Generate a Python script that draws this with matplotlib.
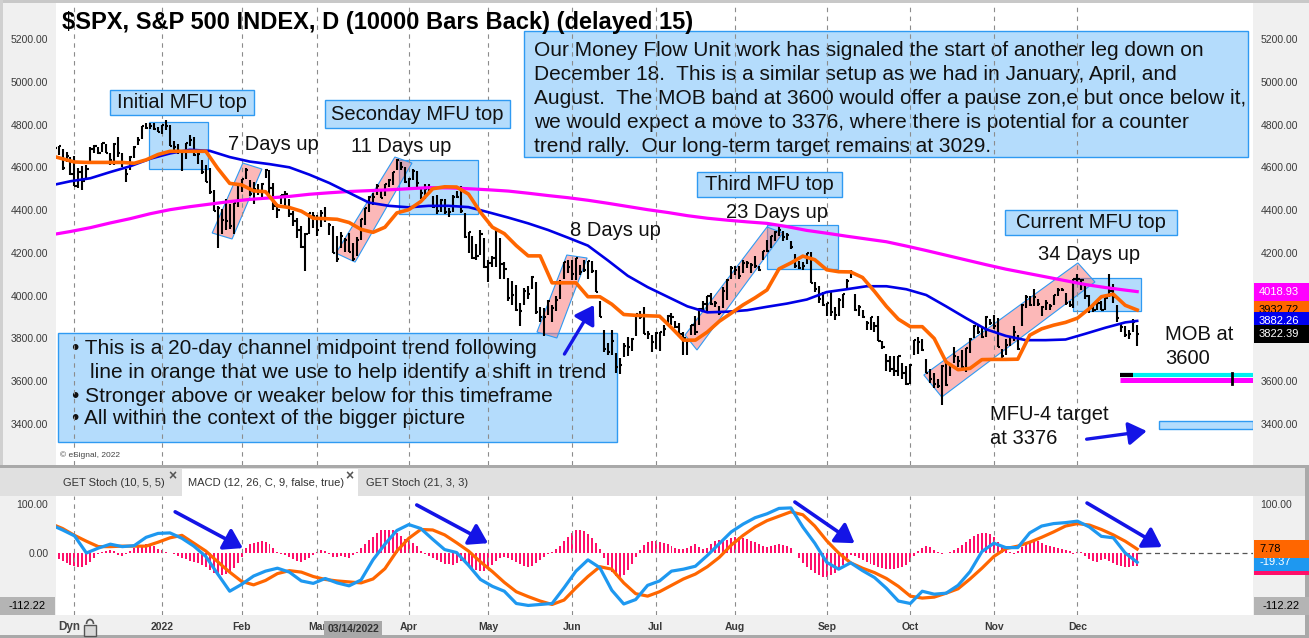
"""
SPX daily bars with MFU annotations and a MACD pane, eSignal-style screenshot.
Output: out.png (1309x638)
"""
import numpy as np
import pandas as pd
import matplotlib
matplotlib.use("Agg")
import matplotlib.pyplot as plt
from matplotlib.patches import Rectangle, Polygon, FancyArrowPatch, Arc
from matplotlib.transforms import Affine2D, blended_transform_factory

plt.rcParams["font.family"] = ["Liberation Sans", "DejaVu Sans"]

# ---- Calendar ----
HOLIDAYS = ["2021-11-25", "2021-12-24", "2022-01-17", "2022-02-21", "2022-04-15",
            "2022-05-30", "2022-06-20", "2022-07-04", "2022-09-05", "2022-11-24"]
days = pd.bdate_range("2021-11-22", "2022-12-22")
days = days[~days.isin(pd.to_datetime(HOLIDAYS))]

# ---- Daily bars (grouped by month) ----
highs = [
    4743, 4701, 4702, 4686, 4672, 4647,
    4652, 4596, 4608, 4613, 4695, 4706, 4697, 4713, 4710, 4666, 4713, 4743, 4666, 4590, 4652, 4698,
    4741, 4792, 4808, 4805, 4809, 4787,
    4797, 4819, 4797, 4725, 4708, 4673, 4714, 4749, 4744, 4666, 4632, 4612, 4596, 4495, 4418, 4407,
    4454, 4429, 4432, 4516,
    4547, 4595, 4542, 4530, 4522, 4525, 4590, 4588, 4527, 4427, 4472, 4489, 4452, 4394, 4363, 4325,
    4295, 4385, 4389,
    4375, 4401, 4416, 4342, 4327, 4277, 4299, 4268, 4294, 4247, 4272, 4358, 4412, 4465, 4481, 4523,
    4501, 4521, 4546, 4576, 4637, 4627, 4603,
    4549, 4593, 4583, 4504, 4521, 4521, 4465, 4471, 4453, 4453, 4410, 4471, 4489, 4513, 4385, 4299,
    4279, 4241, 4308, 4270,
    4169, 4186, 4308, 4271, 4158, 4082, 4069, 4050, 3964, 4038, 4046, 4090, 4063, 3945, 3943, 3981,
    3955, 3999, 4075, 4159, 4169,
    4166, 4177, 4143, 4169, 4164, 4160, 4119, 3974, 3838, 3778, 3838, 3733, 3708, 3780, 3809, 3802,
    3913, 3928, 3946, 3837, 3818,
    3829, 3832, 3864, 3910, 3919, 3880, 3874, 3829, 3796, 3864, 3903, 3940, 3975, 3999, 4013, 3975,
    3954, 4040, 4079, 4140,
    4141, 4140, 4167, 4162, 4151, 4187, 4138, 4211, 4258, 4280, 4301, 4325, 4303, 4292, 4256, 4196,
    4160, 4156, 4200, 4204, 4062, 4044, 4015,
    3968, 4019, 3945, 3988, 4010, 4077, 4119, 4006, 3956, 3932, 3880, 3900, 3875, 3907, 3790, 3727,
    3716, 3717, 3720, 3687, 3672,
    3680, 3791, 3807, 3797, 3706, 3657, 3640, 3609, 3674, 3698, 3686, 3762, 3719, 3747, 3754, 3800,
    3862, 3868, 3859, 3905, 3893,
    3911, 3895, 3751, 3796, 3813, 3860, 3818, 3960, 4002, 3999, 4029, 3983, 3954, 3979, 3962, 4005,
    4034, 4034, 4013, 3976, 4080,
    4100, 4077, 4052, 4002, 3957, 3977, 3977, 3991, 4101, 4053, 3958, 3870, 3856, 3838, 3889, 3862,
]
lows = [
    4682, 4652, 4659, 4586, 4626, 4564,
    4511, 4504, 4496, 4541, 4630, 4666, 4664, 4671, 4667, 4609, 4611, 4648, 4600, 4532, 4589, 4645,
    4703, 4734, 4781, 4778, 4776, 4765,
    4758, 4775, 4700, 4671, 4663, 4582, 4638, 4702, 4651, 4614, 4569, 4530, 4474, 4395, 4223, 4288,
    4305, 4310, 4287, 4415,
    4483, 4544, 4464, 4430, 4471, 4450, 4548, 4477, 4402, 4364, 4430, 4421, 4366, 4327, 4268, 4223,
    4115, 4287, 4318,
    4279, 4322, 4345, 4284, 4199, 4157, 4224, 4206, 4202, 4162, 4187, 4262, 4329, 4392, 4425, 4469,
    4455, 4466, 4508, 4518, 4589, 4588, 4527,
    4507, 4540, 4506, 4450, 4450, 4476, 4408, 4381, 4393, 4381, 4366, 4390, 4455, 4385, 4268, 4201,
    4173, 4168, 4188, 4129,
    4063, 4134, 4133, 4077, 4077, 3976, 3956, 3929, 3859, 3957, 3984, 4033, 3912, 3877, 3811, 3909,
    3875, 3926, 3985, 4077, 4105,
    4074, 4074, 4097, 4110, 4080, 4107, 4017, 3900, 3735, 3723, 3723, 3640, 3636, 3715, 3717, 3743,
    3810, 3889, 3820, 3799, 3738,
    3752, 3742, 3810, 3859, 3865, 3847, 3809, 3722, 3721, 3818, 3818, 3861, 3922, 3928, 3956, 3946,
    3911, 3942, 3982, 4079,
    4097, 4079, 4108, 4128, 4108, 4128, 4113, 4167, 4202, 4222, 4256, 4278, 4254, 4261, 4218, 4131,
    4124, 4119, 4147, 4057, 4017, 3966, 3954,
    3903, 3907, 3886, 3907, 3943, 4030, 4084, 3930, 3906, 3895, 3838, 3839, 3828, 3789, 3750, 3648,
    3644, 3623, 3623, 3610, 3584,
    3585, 3722, 3726, 3740, 3637, 3591, 3570, 3570, 3491, 3579, 3624, 3687, 3667, 3660, 3641, 3733,
    3800, 3822, 3803, 3808, 3863,
    3843, 3758, 3699, 3722, 3763, 3786, 3745, 3860, 3940, 3951, 3953, 3954, 3907, 3933, 3933, 3956,
    3998, 4020, 3956, 3945, 3944,
    4058, 4027, 3984, 3919, 3922, 3934, 3933, 3935, 3994, 3966, 3879, 3828, 3806, 3796, 3828, 3764,
]
closes = [
    4683, 4691, 4701, 4595, 4655, 4567,
    4513, 4577, 4538, 4592, 4687, 4701, 4667, 4712, 4669, 4634, 4710, 4669, 4621, 4568, 4649, 4697,
    4726, 4791, 4786, 4793, 4779, 4766,
    4797, 4794, 4701, 4696, 4677, 4670, 4713, 4726, 4659, 4663, 4577, 4533, 4483, 4398, 4410, 4356,
    4350, 4327, 4432, 4516,
    4547, 4589, 4477, 4501, 4484, 4522, 4587, 4504, 4419, 4402, 4471, 4475, 4380, 4349, 4305, 4226,
    4289, 4385, 4374,
    4306, 4387, 4363, 4329, 4201, 4171, 4278, 4260, 4204, 4173, 4262, 4358, 4412, 4463, 4461, 4512,
    4456, 4520, 4543, 4576, 4632, 4602, 4530,
    4546, 4583, 4525, 4481, 4500, 4488, 4413, 4397, 4447, 4393, 4392, 4462, 4459, 4394, 4272, 4296,
    4175, 4184, 4288, 4132,
    4155, 4175, 4300, 4147, 4123, 3991, 4001, 3935, 3930, 4024, 4008, 4089, 3924, 3901, 3901, 3974,
    3941, 3979, 4058, 4158, 4132,
    4101, 4177, 4109, 4121, 4161, 4116, 4018, 3901, 3750, 3735, 3790, 3667, 3675, 3765, 3760, 3796,
    3912, 3900, 3822, 3819, 3785,
    3825, 3831, 3845, 3903, 3899, 3854, 3819, 3802, 3790, 3863, 3831, 3937, 3960, 3999, 3962, 3967,
    3921, 4024, 4072, 4130,
    4119, 4091, 4155, 4152, 4145, 4140, 4122, 4210, 4207, 4280, 4297, 4305, 4274, 4284, 4228, 4138,
    4129, 4141, 4199, 4058, 4031, 3986, 3955,
    3967, 3924, 3908, 3980, 4006, 4067, 4110, 3933, 3946, 3901, 3873, 3900, 3856, 3790, 3758, 3693,
    3655, 3647, 3719, 3640, 3586,
    3678, 3791, 3783, 3745, 3640, 3612, 3589, 3577, 3670, 3583, 3678, 3720, 3695, 3666, 3753, 3797,
    3859, 3831, 3807, 3901, 3872,
    3856, 3760, 3720, 3771, 3807, 3828, 3749, 3956, 3993, 3957, 3992, 3959, 3947, 3965, 3950, 4004,
    4027, 4026, 3964, 3958, 4080,
    4077, 4072, 3999, 3941, 3934, 3964, 3934, 3991, 4020, 3995, 3896, 3852, 3818, 3822, 3878, 3822,
]

# ---- Overlays ----
CHANNEL_STEP = 3          # orange 20-day channel midpoint, every 3rd bar
channel_mid = [
    4655, 4640, 4625, 4623, 4623, 4623, 4623, 4619, 4635, 4660,
    4675, 4675, 4675, 4675, 4595, 4525, 4518, 4490, 4486, 4420,
    4412, 4395, 4362, 4360, 4357, 4342, 4310, 4296, 4320, 4387,
    4402, 4440, 4500, 4509, 4508, 4475, 4390, 4320, 4290, 4234,
    4186, 4186, 4060, 4060, 4060, 3995, 3995, 3960, 3912, 3908,
    3906, 3904, 3850, 3792, 3792, 3830, 3880, 3918, 3957, 3990,
    4027, 4125, 4153, 4185, 4168, 4121, 4112, 4111, 4085, 4020,
    3950, 3890, 3855, 3855, 3800, 3690, 3654, 3660, 3701, 3702,
    3702, 3703, 3815, 3845, 3862, 3875, 3895, 3940, 3995, 4007,
    3955, 3933,
]
MA_STEP = 5               # moving averages, every 5th bar plus the last bar
ma_blue = [
    4515, 4535, 4549, 4578, 4605, 4640, 4665, 4682, 4677, 4648,
    4627, 4615, 4600, 4566, 4527, 4481, 4435, 4420, 4413, 4420,
    4420, 4414, 4390, 4365, 4338, 4307, 4271, 4234, 4165, 4093,
    4040, 3995, 3950, 3922, 3925, 3932, 3948, 3963, 3982, 4017,
    4030, 4044, 4044, 4030, 4003, 3950, 3895, 3843, 3812, 3792,
    3792, 3795, 3822, 3850, 3875, 3882,
]
ma_magenta = [
    4284, 4300, 4318, 4340, 4360, 4383, 4402, 4416, 4428, 4440,
    4450, 4457, 4464, 4474, 4481, 4487, 4491, 4495, 4500, 4505,
    4504, 4500, 4495, 4489, 4479, 4468, 4458, 4446, 4432, 4417,
    4402, 4389, 4374, 4362, 4353, 4345, 4338, 4323, 4305, 4292,
    4278, 4265, 4252, 4232, 4211, 4189, 4167, 4145, 4124, 4106,
    4088, 4070, 4052, 4038, 4026, 4019,
]
price_tags = [4018.93, 3932.72, 3882.26, 3822.39]

# ---- MACD pane (lines every 3rd bar, histogram daily) ----
macd_line = [
    58, 47, 35, 0, 10, 18, 13, 15, 32, 40,
    41, 30, 14, -7, -43, -78, -64, -47, -37, -31,
    -39, -57, -62, -52, -61, -67, -55, -14, 18, 46,
    58, 50, 28, 7, 1, -25, -54, -68, -78, -103,
    -107, -105, -103, -71, -37, -14, -30, -76, -104, -95,
    -66, -57, -37, -33, -27, -5, 19, 43, 59, 72,
    80, 91, 92, 53, 20, -19, -33, -20, -36, -50,
    -72, -98, -103, -78, -84, -82, -66, -38, 3, 20,
    11, 11, 41, 55, 60, 62, 65, 53, 34, 31,
    0, -19,
]
signal_line = [
    60, 50, 36, 24, 13, 13, 14, 14, 14, 22,
    31, 36, 20, 4, -18, -39, -58, -65, -56, -42,
    -36, -39, -48, -54, -57, -59, -61, -53, -32, 4,
    30, 48, 47, 37, 21, 4, -18, -38, -60, -79,
    -89, -98, -105, -96, -71, -48, -28, -33, -61, -83,
    -88, -79, -66, -53, -43, -28, -9, 16, 36, 53,
    66, 75, 84, 78, 55, 25, 0, -20, -31, -40,
    -52, -68, -88, -92, -90, -82, -73, -53, -31, -7,
    9, 14, 22, 32, 43, 55, 60, 57, 48, 37,
    24, 8,
]
macd_hist = [
    -5, -8, -12, -16, -20, -24, -27, -29, -28, -24, -18, -10,
    -3, 2, 5, 6, 5, -4, -6, -3, 4, 10, 14, 16, 18, 17, 14, 9,
    6, 3, 1, -2, -6, -10, -13, -16, -18, -20, -24, -29, -34, -40, -44, -45, -43, -38, -30, -20, -8,
    10, 18, 21, 23, 24, 22, 18, 10,
    3, -2, -5, -8, -12, -16, -18, -15,
    -10, -5, 2, 7, 5, -3, -8, -8, -6, -8, -10, -5,
    2, 10, 18, 26, 33, 40, 46, 47, 47, 46, 40, 34, 28, 24, 20, 14,
    4, -2, -6, -10, -14, -18, -22, -22, -24, -20,
    -16, -20, -28, -32, -35, -37, -36, -30, -24, -16,
    -10, -8, -10, -14, -18, -22, -26, -28, -26, -20,
    -14, -8, -3, 2, 8, 15, 24, 32, 40, 46,
    47, 44, 38, 30, 20, 8, -10, -25, -38, -47,
    -49, -44, -34, -22, -8, 6, 16, 22, 24, 24,
    22, 20, 18, 15, 10, 8, 8, 10, 14, 18,
    12, 8, 10, 18, 24, 26, 24, 26, 30, 32,
    32, 30, 28, 24, 22, 18, 14, 12, 14, 16,
    18, 16, 14, 10, 0, -10, -20, -28, -34, -40,
    -45, -48, -49, -45, -40, -32, -24,
    -10, -4, -6, -10, -14, -18, -22, -25, -28, -30,
    -32, -33, -33, -30, -28, -24, -18, -6, 4, 10,
    14, 12, 6, 2, -2, 0, 2, 6, 10, 16,
    22, 28, 34, 38, 40, 40, 38, 32, 22, 12,
    6, 2, -2, 4, 12, 18, 24, 26, 24, 20,
    16, 14, 12, 10, 8, 6, 4, -2, 3, 2,
    -6, -12, -16, -18, -14, -12, -16, -20, -24, -26,
    -28, -29, -27, -27,
]
macd_tags = [7.78, -19.37]
MACD_FLOOR = "-112.22"

# ---- Annotation geometry (bar index, price) ----
top_zones = [(24.7, 39.5, 4592, 4812), (87.5, 107.4, 4382, 4634),
             (180.0, 197.8, 4124, 4330), (256.9, 273.9, 3928, 4082)]
channels = [
    [(40.6, 4293), (45.6, 4265), (53.1, 4592), (48.3, 4620)],
    [(71.7, 4199), (76.5, 4157), (90.8, 4620), (86.5, 4648)],
    [(122.2, 3830), (127.2, 3802), (134.8, 4176), (129.7, 4190)],
    [(159.4, 3816), (162.4, 3746), (184.0, 4293), (180.0, 4321)],
    [(219.4, 3629), (223.9, 3526), (262.4, 4064), (258.1, 4153)],
]
MOB_BAND = (3604, 3630)
MFU4_TARGET = (3376, 3414)
price_arrows = [((129.1, 3727), (136.5, 3956)), ((260.3, 3329), (275.4, 3367))]
macd_arrows = [((31.3, 84), (48.3, 10)), ((92.0, 98), (109.9, 20)),
               ((187.0, 104), (202.0, 20)), ((260.4, 102), (279.2, 12))]

# ---- Style ----
STRIP = "#f0f0f0"
BOX_FC = "#b4dcfc"
BOX_EC = "#2f9af2"
ARROW_C = "#1414e6"
TXT = "#111111"
AX_TXT = "#3a3a3a"
GRID_C = "#8c8c8c"
HIST_C = "#ff0f6a"

W, H = 1309, 638
fig = plt.figure(figsize=(W / 100, H / 100), dpi=100, facecolor=STRIP)
PX = Affine2D().scale(1 / W, -1 / H).translate(0, 1) + fig.transFigure


def frac(x0, y0, x1, y1):
    return [x0 / W, 1 - y1 / H, (x1 - x0) / W, (y1 - y0) / H]


def px_rect(x0, y0, x1, y1, **kw):
    return Rectangle((x0, y0), x1 - x0, y1 - y0, transform=PX, **kw)


ax = fig.add_axes(frac(56, 3, 1253, 465))
axm = fig.add_axes(frac(56, 496, 1253, 615))
XLIM = (1.36, 302.1)
PLIM = (3208.3, 5368.3)
MLIM = (-126.5, 116.3)

n = len(closes)
x = np.arange(n)
month_pos = [i for i in range(1, len(days)) if days[i].month != days[i - 1].month]
month_lab = ["" if days[i].year == 2021 else
             (str(days[i].year) if days[i].month == 1 else days[i].strftime("%b"))
             for i in month_pos]

for a in (ax, axm):
    for s in a.spines.values():
        s.set_visible(False)
    a.set_autoscale_on(False)
    for m in month_pos:
        a.axvline(m, color=GRID_C, lw=0.8, ls=(0, (4, 4)), zorder=2.2)

# ---- Price pane ----
for b0, b1, p0, p1 in top_zones:
    ax.add_patch(Rectangle((b0, p0), b1 - b0, p1 - p0, fc=BOX_FC, ec=BOX_EC,
                           lw=0.9, zorder=1.5))
for corners in channels:
    ax.add_patch(Polygon(corners, closed=True, fc=(0.98, 0.45, 0.45, 0.5),
                         ec=BOX_EC, lw=0.8, zorder=1.7))

ax.vlines(x, lows, highs, color="black", lw=1.5, zorder=3)
ax.hlines(closes, x, x + 0.55, color="black", lw=1.5, zorder=3)

ma_x = list(range(0, n - 3, MA_STEP)) + [n - 1]
ch_x = list(range(0, n, CHANNEL_STEP))
ax.plot(ma_x, ma_magenta, color="#ff00ff", lw=2.3, zorder=4)
ax.plot(ma_x, ma_blue, color="#0000e6", lw=1.9, zorder=4.1)
ax.plot(ch_x, channel_mid, color="#ff6600", lw=2.6, zorder=4.2,
        solid_joinstyle="round")

# MOB band and MFU-4 target
mob_start = 268.7
ax.plot([mob_start, XLIM[1]], [MOB_BAND[1]] * 2, color="#00f0f0", lw=3.0,
        solid_capstyle="butt", zorder=4)
ax.plot([mob_start, XLIM[1]], [MOB_BAND[0]] * 2, color="#ff00ff", lw=3.6,
        solid_capstyle="butt", zorder=4)
ax.plot([mob_start, mob_start + 3.3], [MOB_BAND[1]] * 2, color="black", lw=3.0,
        solid_capstyle="butt", zorder=4.1)
ax.plot([296.8, 296.8], [MOB_BAND[0] - 18, MOB_BAND[1] + 10], color="black",
        lw=2.0, zorder=4.1)
ax.add_patch(Rectangle((278.5, MFU4_TARGET[0]), XLIM[1] - 278.5,
                       MFU4_TARGET[1] - MFU4_TARGET[0], fc=BOX_FC, ec=BOX_EC,
                       lw=1.0, zorder=4))

for a_from, a_to in price_arrows:
    ax.add_patch(FancyArrowPatch(a_from, a_to, arrowstyle="-|>,head_length=0.55,head_width=0.35",
                                 mutation_scale=20, lw=2.4, color=ARROW_C,
                                 shrinkA=0, shrinkB=0, zorder=6))

# Text boxes
ax.add_patch(px_rect(524, 31, 1248, 157, fc=BOX_FC, ec=BOX_EC, lw=1.0,
                     zorder=1.2, clip_on=False))
story = [
    "Our Money Flow Unit work has signaled the start of another leg down on",
    "December 18.  This is a similar setup as we had in January, April, and",
    "August.  The MOB band at 3600 would offer a pause zon,e but once below it,",
    "we would expect a move to 3376, where there is potential for a counter",
    "trend rally.  Our long-term target remains at 3029.",
]
for i, line in enumerate(story):
    ax.text(534, 50 + i * 24.2, line, transform=PX, fontsize=15, color=TXT,
            va="center", ha="left", zorder=1.3)

ax.add_patch(px_rect(58, 333, 617, 442, fc=BOX_FC, ec=BOX_EC, lw=1.0,
                     zorder=1.2, clip_on=False))
notes = [
    (72, 348, "\u2022 This is a 20-day channel midpoint trend following"),
    (90, 372, "line in orange that we use to help identify a shift in trend"),
    (72, 396, "\u2022 Stronger above or weaker below for this timeframe"),
    (72, 419, "\u2022 All within the context of the bigger picture"),
]
for tx, ty, line in notes:
    ax.text(tx, ty, line, transform=PX, fontsize=15, color=TXT, va="center",
            ha="left", zorder=1.3)

label_boxes = [("Initial MFU top", 110, 90, 254, 115),
               ("Seconday MFU top", 325, 100, 510, 128),
               ("Third MFU top", 697, 172, 842, 197),
               ("Current MFU top", 1005, 210, 1177, 235)]
for text, x0, y0, x1, y1 in label_boxes:
    ax.add_patch(px_rect(x0, y0, x1, y1, fc=BOX_FC, ec=BOX_EC, lw=1.0,
                         zorder=5, clip_on=False))
    ax.text((x0 + x1) / 2, (y0 + y1) / 2 + 0.5, text, transform=PX,
            fontsize=14.5, color=TXT, ha="center", va="center", zorder=5.1)

for text, tx, ty in [("7 Days up", 273, 144), ("11 Days up", 401, 147),
                     ("8 Days up", 615, 230), ("23 Days up", 777, 213),
                     ("34 Days up", 1089, 255)]:
    ax.text(tx, ty, text, transform=PX, fontsize=14.5, color=TXT, ha="center",
            va="center", zorder=5.1)
for text, tx, ty in [("MOB at", 1165, 335), ("3600", 1165, 358),
                     ("MFU-4 target", 990, 414), ("at 3376", 990, 438)]:
    ax.text(tx, ty, text, transform=PX, fontsize=14.5, color=TXT, ha="left",
            va="center", zorder=5.1)

ax.text(62, 23, "$SPX, S&P 500 INDEX, D (10000 Bars Back) (delayed 15)",
        transform=PX, fontsize=17, fontweight="bold", color="black",
        ha="left", va="center", zorder=7)
ax.text(60, 455, "\u00a9 eSignal, 2022", transform=PX, fontsize=6, color="#444444",
        ha="left", va="center", zorder=7)

ticks = np.arange(3400, 5201, 200)
ax.set_yticks(ticks)
ax.set_yticklabels([f"{t:.2f}" for t in ticks])
ax.set_xticks([])
ax.tick_params(axis="y", length=0, labelsize=7.5, labelcolor=AX_TXT,
               left=True, right=True, labelleft=True, labelright=True, pad=5.5)
ax.set_xlim(*XLIM)
ax.set_ylim(*PLIM)

# ---- MACD pane ----
axm.bar(x, macd_hist, width=0.5, color=HIST_C, lw=0, antialiased=False, zorder=2)
m_x = list(range(0, n, CHANNEL_STEP))
axm.plot(m_x, signal_line, color="#ff6600", lw=2.3, zorder=3)
axm.plot(m_x, macd_line, color="#1e98f0", lw=2.3, zorder=3.2)
axm.plot([n - 1, XLIM[1]], [0, 0], color="#555555", lw=0.9, ls=(0, (4, 3)), zorder=2)
for a_from, a_to in macd_arrows:
    axm.add_patch(FancyArrowPatch(a_from, a_to, arrowstyle="-|>,head_length=0.55,head_width=0.35",
                                  mutation_scale=20, lw=2.6, color=ARROW_C,
                                  shrinkA=0, shrinkB=0, zorder=6))
mt = [100, 0]
axm.set_yticks(mt)
axm.set_yticklabels([f"{t:.2f}" for t in mt])
axm.set_xticks(month_pos)
axm.set_xticklabels(month_lab, fontweight="bold")
axm.tick_params(axis="y", length=0, labelsize=7.5, labelcolor=AX_TXT,
                left=True, right=True, labelleft=True, labelright=True, pad=5.5)
axm.tick_params(axis="x", length=0, labelsize=7.5, labelcolor=AX_TXT, pad=5)
axm.set_xlim(*XLIM)
axm.set_ylim(*MLIM)

# ---- Frame, tab bar and value tags ----
fig.add_artist(px_rect(0, 0, W, 3, fc="#c8c8c8", ec="none", zorder=1))
fig.add_artist(px_rect(0, 0, 3, 465, fc="#d0d0d0", ec="none", zorder=1))
fig.add_artist(px_rect(0, 465, 1305, 468, fc="#a9a9a9", ec="none", zorder=1))
fig.add_artist(px_rect(0, 468, 1305, 496, fc="#e0e0e0", ec="none", zorder=1))
fig.add_artist(px_rect(182, 469, 358, 496, fc="white", ec="none", zorder=1.1))
fig.add_artist(px_rect(0, 635, W, H, fc="#a9a9a9", ec="none", zorder=1))
fig.add_artist(px_rect(1305, 465, W, H, fc="#a9a9a9", ec="none", zorder=1))
tabs = [(63, "GET Stoch (10, 5, 5)"), (188, "MACD (12, 26, C, 9, false, true)"),
        (366, "GET Stoch (21, 3, 3)")]
for tx, text in tabs:
    fig.text(tx, 483, text, transform=PX, fontsize=8, color="#333333",
             ha="left", va="center", zorder=2)
for tx in (172, 349):
    fig.text(tx, 476, "\u00d7", transform=PX, fontsize=10, fontweight="bold",
             color="#555555", ha="center", va="center", zorder=2)

fig.text(58, 627, "Dyn", transform=PX, fontsize=8.5, fontweight="bold",
         color="#444444", ha="left", va="center", zorder=2)
fig.add_artist(Arc((90, 624), 7, 9, theta1=180, theta2=360, transform=PX,
                   ec="#555555", lw=1.2, zorder=2))
fig.add_artist(px_rect(84, 625, 96, 636, fc="#d8d8d8", ec="#555555", lw=1.0, zorder=2))

mar14 = int(np.flatnonzero(days == pd.Timestamp("2022-03-14"))[0])
fig.text(mar14, 629, "03/14/2022", transform=blended_transform_factory(axm.transData, PX),
         fontsize=7.5, fontweight="bold", color="#333333", ha="center", va="center",
         zorder=3, bbox=dict(boxstyle="square,pad=0.32", fc="#a8a8a8", ec="none"))


def value_tag(axis, lim, value, text, face, color, z):
    upp = (lim[1] - lim[0]) / (axis.bbox.height)
    tr = blended_transform_factory(PX, axis.transData)
    fig.add_artist(Rectangle((1254, value - 9 * upp), 55, 18 * upp, transform=tr,
                             fc=face, ec="none", zorder=z))
    if text:
        fig.text(1259, value, text, transform=tr, fontsize=8, color=color,
                 ha="left", va="center", zorder=z + 0.5)


tag_style = [("#ff00ff", "white"), ("#ff6600", "black"), ("#0000f0", "white"),
             ("black", "white")]
for i, (v, (fc, tc)) in enumerate(zip(price_tags, tag_style)):
    value_tag(ax, PLIM, v, f"{v:.2f}", fc, tc, 10 + 2 * i)

value_tag(axm, MLIM, macd_hist[-1], "", HIST_C, "white", 10)
value_tag(axm, MLIM, macd_tags[1], f"{macd_tags[1]:.2f}", "#1e98f0", "white", 12)
value_tag(axm, MLIM, macd_tags[0], f"{macd_tags[0]:.2f}", "#ff6600", "black", 14)

for x0 in (0, 1254):
    fig.add_artist(px_rect(x0, 597, x0 + 55, 615, fc="#b4b4b4", ec="none", zorder=20))
    fig.text(x0 + 27, 606, MACD_FLOOR, transform=PX, fontsize=8, color="black",
             ha="center", va="center", zorder=21)

fig.savefig("out.png", dpi=100, facecolor=fig.get_facecolor())
